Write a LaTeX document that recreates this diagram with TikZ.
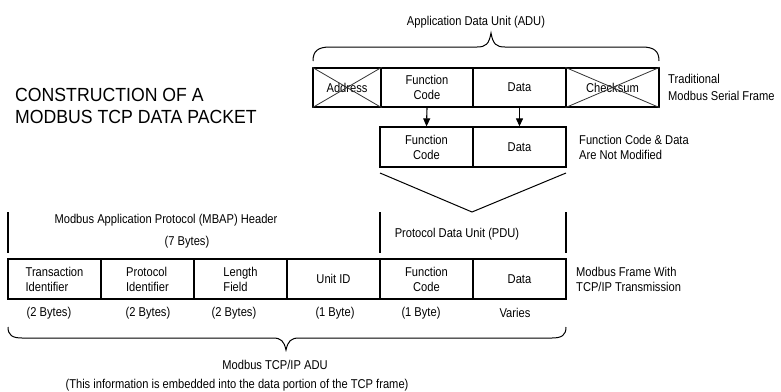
\documentclass[tikz,border=0pt]{standalone}
\usepackage{fontspec}
\setmainfont{Liberation Sans}[FakeStretch=0.87]
\newfontfamily\titlefont{Liberation Sans}[FakeStretch=0.93]
\usetikzlibrary{arrows.meta}
\begin{document}
\begin{tikzpicture}[x=1pt,y=-1pt,
  lbl/.style={inner sep=0pt, font=\fontsize{12.8}{15}\selectfont, align=center},
  lbll/.style={lbl, align=left, anchor=west},
  cell/.style={draw, line width=1.3pt, inner sep=0pt, minimum height=39pt, font=\fontsize{12.8}{15}\selectfont, align=center},
  ln/.style={line width=1pt},
  arr/.style={line width=1.1pt, -{Triangle[length=8pt,width=7pt]}}]
\useasboundingbox (0,0) rectangle (781,391);

% title
\node[inner sep=0pt, anchor=west, align=left, font=\titlefont\fontsize{19}{22}\selectfont] (title) at (15,106) {CONSTRUCTION OF A\\MODBUS TCP DATA PACKET};

% traditional serial frame
\node[cell, minimum width=68pt] (addr) at (347,87.5) {Address};
\node[cell, minimum width=92pt] (fc1) at (427,87.5) {Function\\Code};
\node[cell, minimum width=93pt] (data1) at (519.5,87.5) {Data};
\node[cell, minimum width=93pt] (chk) at (612.5,87.5) {Checksum};
\draw[line width=0.8pt, black!80] (addr.north west) -- (addr.south east) (addr.south west) -- (addr.north east);
\draw[line width=0.8pt, black!80] (chk.north west) -- (chk.south east) (chk.south west) -- (chk.north east);
\node[lbll] (trad) at (668,87.5) {Traditional\\[2pt]Modbus Serial Frame};

% ADU brace
\coordinate (bl) at (313,61);
\coordinate (br) at (659,61);
\coordinate (btip) at (491,33);
\draw[ln] (bl) .. controls (313,51) and (318,47) .. (330,47) -- (477,47)
  .. controls (486,47) and (489,44) .. (btip)
  .. controls (493,44) and (496,47) .. (505,47) -- (642,47)
  .. controls (654,47) and (659,51) .. (br);
\node[lbl] (adu) at (476,22) {Application Data Unit (ADU)};

% PDU unchanged
\node[cell, minimum width=93pt, minimum height=40pt] (fc2) at (426.5,147) {Function\\Code};
\node[cell, minimum width=93pt, minimum height=40pt] (data2) at (519.5,147) {Data};
\draw[arr] (fc1.south) -- (fc2.north);
\draw[arr] (data1.south) -- (data2.north);
\node[lbll] (notmod) at (579,147) {Function Code \& Data\\Are Not Modified};

% V
\coordinate (vl) at (380,173);
\coordinate (vm) at (472,212);
\coordinate (vr) at (566,173);
\draw[ln] (vl) -- (vm) -- (vr);

% brackets
\coordinate (m1) at (8,212);   \coordinate (m2) at (8,253);
\coordinate (p1) at (380,212); \coordinate (p2) at (380,253);
\coordinate (q1) at (566,212); \coordinate (q2) at (566,253);
\draw[line width=1.2pt] (m1) -- (m2) (p1) -- (p2) (q1) -- (q2);
\node[lbl] (mbap) at (166,220) {Modbus Application Protocol (MBAP) Header};
\node[lbl] (seven) at (187,242) {(7 Bytes)};
\node[lbl] (pdu) at (457,234) {Protocol Data Unit (PDU)};

% TCP frame
\node[cell, minimum width=93pt, minimum height=40pt, align=left] (tid) at (54.5,279) {Transaction\\Identifier};
\node[cell, minimum width=93pt, minimum height=40pt, align=left] (pid) at (147.5,279) {Protocol\\Identifier};
\node[cell, minimum width=93pt, minimum height=40pt, align=left] (len) at (240.5,279) {Length\\Field};
\node[cell, minimum width=93pt, minimum height=40pt] (uid) at (333.5,279) {Unit ID};
\node[cell, minimum width=93pt, minimum height=40pt] (fc3) at (426.5,279) {Function\\Code};
\node[cell, minimum width=93pt, minimum height=40pt] (data3) at (519.5,279) {Data};
\node[lbll] (mfw) at (576,279) {Modbus Frame With\\TCP/IP Transmission};

% byte counts
\node[lbl] (b1) at (49,313) {(2 Bytes)};
\node[lbl] (b2) at (148,313) {(2 Bytes)};
\node[lbl] (b3) at (234,313) {(2 Bytes)};
\node[lbl] (b4) at (335,313) {(1 Byte)};
\node[lbl] (b5) at (421,313) {(1 Byte)};
\node[lbl] (b6) at (515,313) {Varies};

% bottom brace
\coordinate (cl) at (8,327);
\coordinate (cr) at (566,327);
\coordinate (ctip) at (286,350);
\draw[ln] (cl) .. controls (8,335) and (12,338) .. (22,338) -- (273,338)
  .. controls (281,338) and (284,341) .. (ctip)
  .. controls (288,341) and (291,338) .. (299,338) -- (552,338)
  .. controls (562,338) and (566,335) .. (cr);
\node[lbl] (tcpadu) at (275,365) {Modbus TCP/IP ADU};
\node[lbl] (info) at (237,385) {(This information is embedded into the data portion of the TCP frame)};
\end{tikzpicture}
\end{document}
